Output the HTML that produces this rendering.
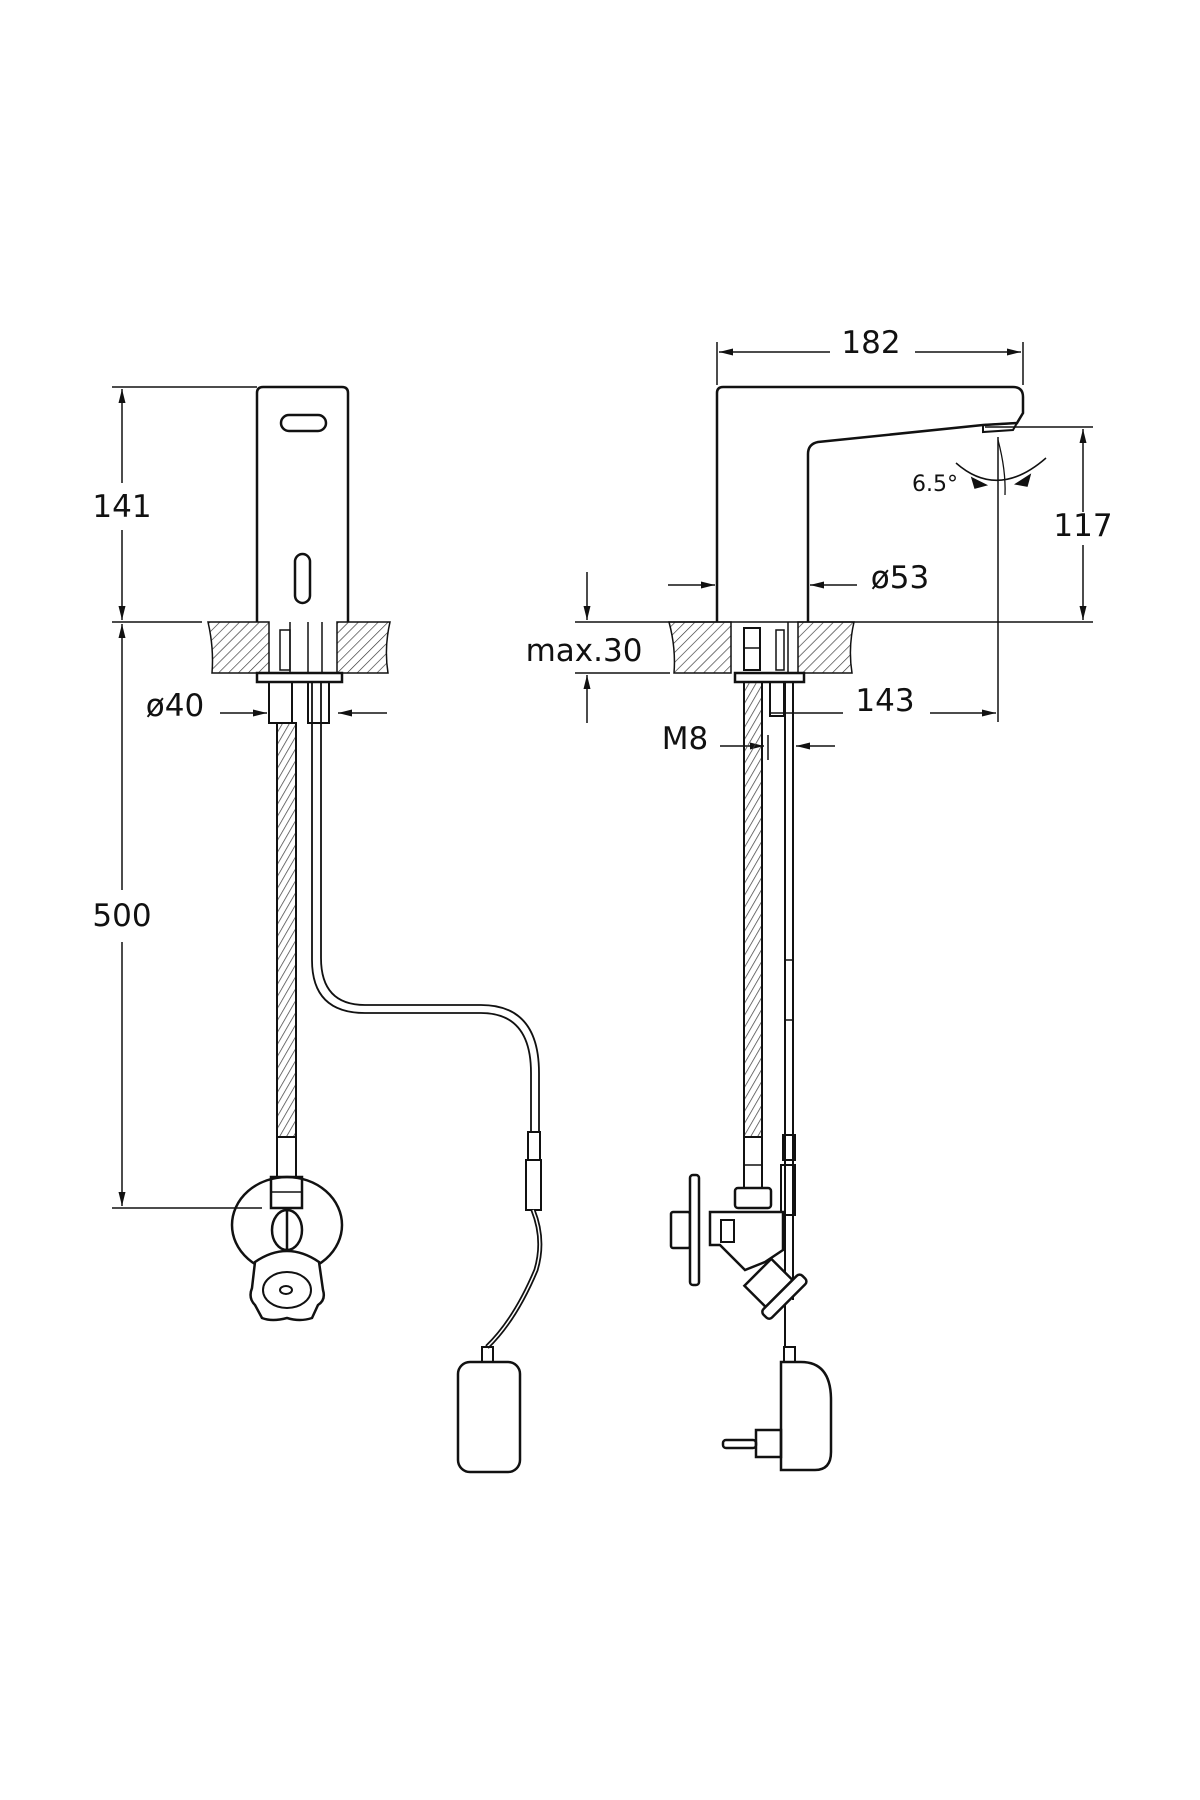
<!DOCTYPE html>
<html><head><meta charset="utf-8"><style>
html,body{margin:0;padding:0;background:#fff;}
svg{display:block;}
text{font-family:"DejaVu Sans","Liberation Sans",sans-serif;fill:#111;}
</style></head><body>
<svg width="1200" height="1800" viewBox="0 0 1200 1800" xmlns="http://www.w3.org/2000/svg">
<defs>
<pattern id="h" width="7" height="7" patternUnits="userSpaceOnUse" patternTransform="rotate(45)">
<line x1="0" y1="0" x2="0" y2="7" stroke="#333" stroke-width="1.3"/></pattern>
<pattern id="br" width="6" height="10" patternUnits="userSpaceOnUse" patternTransform="rotate(30)">
<line x1="0" y1="0" x2="0" y2="10" stroke="#444" stroke-width="1.5"/></pattern>
<marker id="a" viewBox="0 0 10 10" refX="10" refY="5" markerWidth="14" markerHeight="14" orient="auto-start-reverse" markerUnits="userSpaceOnUse">
<path d="M0,2.5 L10,5 L0,7.5 z" fill="#111"/></marker>
</defs>
<g stroke="#111" fill="none" stroke-width="1.5">
<!-- LEFT VIEW dims -->
<line x1="112" y1="387" x2="257" y2="387"/>
<line x1="112" y1="622" x2="202" y2="622"/>
<line x1="122" y1="483" x2="122" y2="389" marker-end="url(#a)"/>
<line x1="122" y1="530" x2="122" y2="620" marker-end="url(#a)"/>
<line x1="122" y1="624" x2="122" y2="890" marker-start="url(#a)"/>
<line x1="122" y1="942" x2="122" y2="1206" marker-end="url(#a)"/>
<line x1="112" y1="1208" x2="262" y2="1208"/>
<line x1="220" y1="713" x2="267" y2="713" marker-end="url(#a)"/>
<line x1="387" y1="713" x2="338" y2="713" marker-end="url(#a)"/>
<!-- left body -->
<path d="M257,622 V393 Q257,387 263,387 H342 Q348,387 348,393 V622" stroke-width="2.5"/>
<rect x="281" y="415" width="45" height="16" rx="8" stroke-width="2.5"/>
<rect x="295" y="554" width="15" height="49" rx="7.5" stroke-width="2.5"/>
<!-- slab left -->
<path d="M208,622 H269 V673 H212 Q214,648 208,622 Z" fill="url(#h)"/>
<path d="M337,622 H390 Q384,648 388,673 H337 Z" fill="url(#h)"/>
<line x1="290" y1="622" x2="290" y2="673"/><line x1="308" y1="622" x2="308" y2="673"/><line x1="322" y1="622" x2="322" y2="673"/>
<rect x="280" y="630" width="10" height="40"/>
<rect x="257" y="673" width="85" height="9" stroke-width="2.5"/>
<rect x="269" y="682" width="23" height="41" stroke-width="2"/>
<rect x="308" y="682" width="21" height="41" stroke-width="2"/>
<!-- left hose -->
<rect x="277" y="723" width="19" height="414" fill="url(#br)" stroke-width="2"/>
<rect x="277" y="1137" width="19" height="40" stroke-width="2"/>
<rect x="271" y="1177" width="31" height="31" stroke-width="2.5"/>
<line x1="271" y1="1192" x2="302" y2="1192"/>
<ellipse cx="287" cy="1225" rx="55" ry="48" stroke-width="2.5"/>
<ellipse cx="287" cy="1230" rx="15" ry="20" stroke-width="2.5" fill="#fff"/>
<line x1="287" y1="1210" x2="287" y2="1250" stroke-width="2.5"/>
<path d="M255,1262 Q287,1240 319,1262 L323,1290 Q326,1300 318,1305 L312,1318 Q300,1322 287,1318 Q272,1322 262,1318 L255,1305 Q248,1298 252,1288 Z" fill="#fff" stroke-width="2.5"/>
<ellipse cx="287" cy="1290" rx="24" ry="18" stroke-width="2"/>
<ellipse cx="286" cy="1290" rx="6" ry="4" stroke-width="2"/>
<!-- left cable -->
<path d="M312,682 V960 Q312,1013 365,1013 H481 Q531,1013 531,1073 V1132" stroke-width="1.8"/>
<path d="M321,682 V958 Q321,1005 365,1005 H481 Q539,1005 539,1073 V1132" stroke-width="1.8"/>
<rect x="528" y="1132" width="12" height="28" stroke-width="2"/>
<rect x="526" y="1160" width="15" height="50" stroke-width="2"/>
<path d="M533,1210 Q545,1240 536,1270 Q515,1320 487,1347" stroke-width="5"/>
<path d="M533,1210 Q545,1240 536,1270 Q515,1320 487,1347" stroke="#fff" stroke-width="1.5"/>
<rect x="482" y="1347" width="11" height="15" stroke-width="2"/>
<rect x="458" y="1362" width="62" height="110" rx="12" stroke-width="2.5"/>
<!-- RIGHT VIEW -->
<line x1="717" y1="342" x2="717" y2="385"/><line x1="1023" y1="342" x2="1023" y2="385"/>
<line x1="830" y1="352" x2="719" y2="352" marker-end="url(#a)"/>
<line x1="915" y1="352" x2="1021" y2="352" marker-end="url(#a)"/>
<path d="M717,622 V393 Q717,387 723,387 H1013 Q1023,387 1023,397 V413 L1017,423 L983,425 L818,442 Q808,444 808,454 V622" stroke-width="2.5"/>
<path d="M983,425 L1017,423 L1013,430 L983,432 Z" stroke-width="2"/>
<line x1="985" y1="427" x2="1093" y2="427"/>
<line x1="575" y1="622" x2="1093" y2="622"/>
<line x1="575" y1="673" x2="670" y2="673"/>
<line x1="1083" y1="512" x2="1083" y2="429" marker-end="url(#a)"/>
<line x1="1083" y1="545" x2="1083" y2="620" marker-end="url(#a)"/>
<line x1="587" y1="572" x2="587" y2="620" marker-end="url(#a)"/>
<line x1="587" y1="723" x2="587" y2="675" marker-end="url(#a)"/>
<line x1="668" y1="585" x2="715" y2="585" marker-end="url(#a)"/>
<line x1="857" y1="585" x2="810" y2="585" marker-end="url(#a)"/>
<line x1="998" y1="437" x2="998" y2="722"/>
<path d="M998,440 Q1006,470 1005,495" stroke-width="1.3"/>
<path d="M956,463 Q998,500 1046,458"/>
<path d="M972,478 L986,485 L975,488 Z" fill="#111"/>
<path d="M1030,475 L1016,484 L1027,486 Z" fill="#111"/>
<line x1="770" y1="713" x2="843" y2="713"/>
<line x1="930" y1="713" x2="996" y2="713" marker-end="url(#a)"/>
<line x1="720" y1="746" x2="764" y2="746" marker-end="url(#a)"/>
<line x1="835" y1="746" x2="796" y2="746" marker-end="url(#a)"/>
<line x1="768" y1="735" x2="768" y2="760"/>
<!-- right slab -->
<path d="M669,622 H731 V673 H674 Q676,648 669,622 Z" fill="url(#h)"/>
<path d="M798,622 H854 Q848,648 852,673 H798 Z" fill="url(#h)"/>
<rect x="744" y="628" width="16" height="42" stroke-width="2"/>
<line x1="744" y1="648" x2="760" y2="648"/>
<rect x="776" y="630" width="8" height="40"/>
<line x1="788" y1="622" x2="788" y2="673"/>
<rect x="735" y="673" width="69" height="9" stroke-width="2.5"/>
<rect x="770" y="682" width="14" height="34" stroke-width="2"/>
<rect x="744" y="682" width="18" height="455" fill="url(#br)" stroke-width="2"/>
<line x1="785" y1="682" x2="785" y2="1347" stroke-width="2"/>
<line x1="793" y1="682" x2="793" y2="1300" stroke-width="2"/>
<line x1="785" y1="960" x2="793" y2="960"/><line x1="785" y1="1020" x2="793" y2="1020"/>
<rect x="783" y="1135" width="12" height="25" stroke-width="2"/>
<rect x="781" y="1165" width="14" height="50" stroke-width="2"/>
<rect x="744" y="1137" width="18" height="51" stroke-width="2"/>
<line x1="744" y1="1165" x2="762" y2="1165"/>
<rect x="735" y="1188" width="36" height="20" rx="3" stroke-width="2.5"/>
<path d="M710,1212 H783 V1250 L765,1262 L745,1270 L720,1245 H710 Z" fill="#fff" stroke-width="2.5"/>
<rect x="721" y="1220" width="13" height="22" stroke-width="2"/>
<rect x="671" y="1212" width="19" height="36" rx="2" stroke-width="2.5"/>
<rect x="690" y="1175" width="9" height="110" rx="3" stroke-width="2.5" fill="#fff"/>
<g transform="rotate(-45 772 1285)">
<rect x="752" y="1266" width="38" height="30" stroke-width="2.5" fill="#fff"/>
<rect x="745" y="1296" width="55" height="12" rx="4" stroke-width="2.5" fill="#fff"/>
</g>
<rect x="784" y="1347" width="11" height="15" stroke-width="2"/>
<path d="M781,1470 V1362 H801 Q831,1362 831,1400 V1452 Q831,1470 815,1470 Z" stroke-width="2.5"/>
<rect x="756" y="1430" width="25" height="27" stroke-width="2.5"/>
<rect x="723" y="1440" width="33" height="8" rx="3" stroke-width="2.5"/>
</g>
<g font-size="31" text-anchor="middle">
<text x="122" y="517">141</text>
<text x="122" y="926">500</text>
<text x="175" y="716">ø40</text>
<text x="871" y="353">182</text>
<text x="1083" y="536">117</text>
<text x="900" y="588">ø53</text>
<text x="584" y="661">max.30</text>
<text x="885" y="711">143</text>
<text x="685" y="749">M8</text>
<text x="935" y="491" font-size="22">6.5°</text>
</g>
</svg>
</body></html>
